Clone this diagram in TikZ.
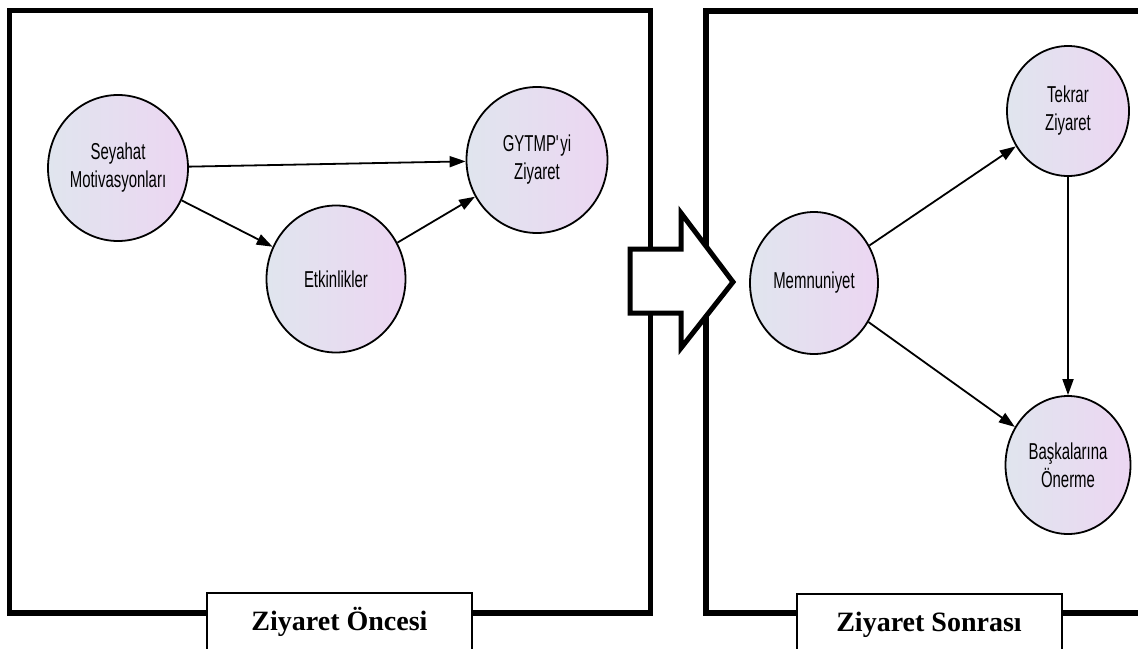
\documentclass[tikz,border=0pt]{standalone}
\usepackage{fontspec}
\usepackage{xcolor}
\usepackage{tikz}
\usetikzlibrary{arrows.meta,shapes.geometric}
\setmainfont{Liberation Serif}
\newfontfamily\narrowsans[FakeStretch=0.65]{Liberation Sans}
\definecolor{VisitLeft}{RGB}{224, 229, 238}
\definecolor{VisitRight}{RGB}{236, 214, 242}

\begin{document}
\begin{tikzpicture}[x=1pt, y=-1pt,
    factor/.style={ellipse, draw=black, line width=1.8pt, left color=VisitLeft, right color=VisitRight, align=center, inner sep=0pt, font=\narrowsans\fontsize{23}{28}\selectfont},
    link/.style={line width=1.8pt, -{Triangle[length=16pt, width=11pt]}},
    frame/.style={line width=5.5pt},
    stagebox/.style={draw=black, line width=2pt, fill=white, anchor=north, minimum width=265pt, minimum height=62pt, text height=25pt, text depth=12pt, font=\bfseries\fontsize{28}{32}\selectfont}
  ]
    \useasboundingbox (0,0) rectangle (1138,648);

    % the two stages
    \draw[frame] (9.5,10.5) rectangle (650.5,613);
    \draw[frame] (1150,11) -- (706,11) -- (706,613) -- (1150,613);

    % block arrow between the stages
    \draw[line width=5pt, fill=white] (630,249) -- (681,249) -- (681,213) -- (733,282) -- (681,348) -- (681,313) -- (630,313) -- cycle;

    \node[stagebox] (before) at (339.5,592) {Ziyaret Öncesi};
    \node[stagebox] (after) at (929,593) {Ziyaret Sonrası};

    % before the visit
    \node[factor, minimum width=140pt, minimum height=146pt] (sey) at (118,168) {Seyahat\\Motivasyonları};
    \node[factor, minimum width=139pt, minimum height=147pt] (etk) at (336,279) {Etkinlikler};
    \node[factor, minimum width=141pt, minimum height=146pt] (gyt) at (537,160) {GYTMP\textquotesingle yi\\Ziyaret};

    % after the visit
    \node[factor, minimum width=128pt, minimum height=142pt] (mem) at (814,283) {Memnuniyet};
    \node[factor, minimum width=122pt, minimum height=130pt] (tek) at (1068,111) {Tekrar\\Ziyaret};
    \node[factor, minimum width=125pt, minimum height=138pt] (bas) at (1068,465) {Başkalarına\\Önerme};

    \draw[link] (sey) -- (gyt);
    \draw[link] (sey) -- (etk);
    \draw[link] (etk) -- (gyt);
    \draw[link] (mem) -- (tek);
    \draw[link] (mem) -- (bas);
    \draw[link] (tek) -- (bas);
  \end{tikzpicture}
\end{document}
